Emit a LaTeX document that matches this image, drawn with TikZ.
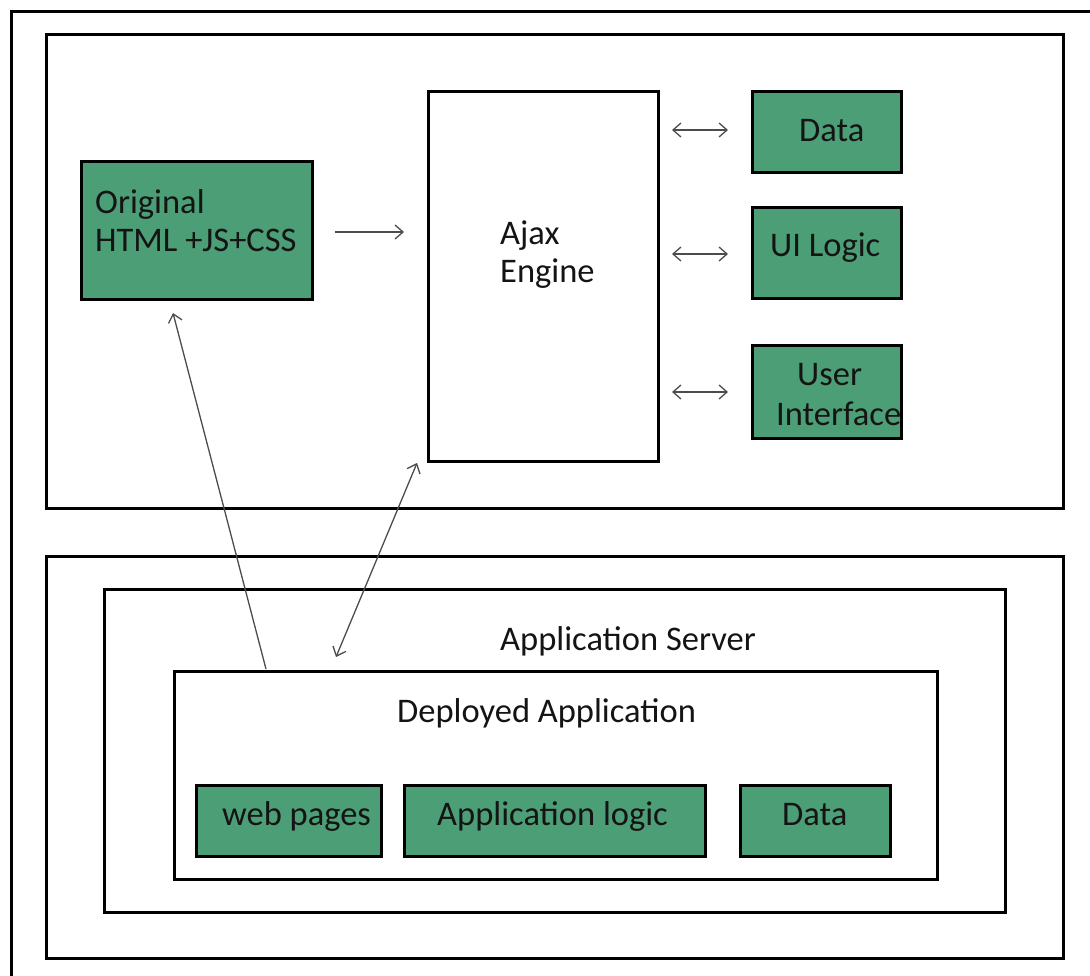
\documentclass[tikz,border=0pt]{standalone}
\usepackage{fontspec}
\setmainfont{Carlito}
\usetikzlibrary{arrows.meta}
\definecolor{boxgreen}{RGB}{76,158,118}
\tikzset{tipa/.tip={Straight Barb[length=8pt,width=14pt,line width=1.3pt]}}
\begin{document}
\begin{tikzpicture}[x=1pt,y=-1pt,
  frame/.style={draw=black,line width=3pt,anchor=north west,inner sep=0pt,outer sep=0pt},
  gbox/.style={frame,fill=boxgreen},
  wbox/.style={frame,fill=white},
  lbl/.style={anchor=base west,inner sep=0pt,font=\fontsize{34.5}{40}\selectfont,text=black!92},
  conn/.style={draw=black!70,line width=1.3pt}
]
\useasboundingbox (0,0) rectangle (1090,976);
% outer frame (only its top and left sides fall inside the picture)
\coordinate (ob) at (11,980);
\coordinate (otl) at (11,12);
\coordinate (or) at (1094,12);
\draw[line width=3pt] (ob) -- (otl) -- (or);
% containers
\node[frame,minimum width=1017,minimum height=473] (client) at (46,35) {};
\node[frame,minimum width=1017,minimum height=402] (server) at (46,556) {};
\node[frame,minimum width=901,minimum height=323] (appserver) at (104,589) {};
\node[frame,minimum width=763,minimum height=208] (deployed) at (174,671) {};
% client boxes
\node[gbox,minimum width=231,minimum height=138] (orig) at (81,162) {};
\node[wbox,minimum width=230,minimum height=369] (ajax) at (428,92) {};
\node[gbox,minimum width=149,minimum height=81] (data1) at (752,92) {};
\node[gbox,minimum width=149,minimum height=91] (uilogic) at (752,208) {};
\node[gbox,minimum width=149,minimum height=92] (ui) at (752,346) {};
% server boxes
\node[gbox,minimum width=185,minimum height=71] (web) at (196,785) {};
\node[gbox,minimum width=301,minimum height=71] (applogic) at (404,785) {};
\node[gbox,minimum width=150,minimum height=71] (data2) at (740,785) {};
% texts
\node[lbl] (t1) at (95,214) {Original};
\node[lbl] (t2) at (95,252) {HTML +JS+CSS};
\node[lbl] (t3) at (500,245) {Ajax};
\node[lbl] (t4) at (500,283) {Engine};
\node[lbl] (t5) at (799,142) {Data};
\node[lbl] (t6) at (770,257) {UI Logic};
\node[lbl] (t7) at (797,385) {User};
\node[lbl] (t8) at (776,425) {Interface};
\node[lbl] (t9) at (500,650) {Application Server};
\node[lbl] (t10) at (397,722) {Deployed Application};
\node[lbl] (t11) at (222,825) {web pages};
\node[lbl] (t12) at (437,825) {Application logic};
\node[lbl] (t13) at (782,825) {Data};
% connector end points
\coordinate (a1) at (335,232);
\coordinate (a2) at (404,232);
\coordinate (b1) at (672,130);
\coordinate (b2) at (728,130);
\coordinate (c1) at (672,254);
\coordinate (c2) at (728,254);
\coordinate (d1) at (672,392);
\coordinate (d2) at (728,392);
\coordinate (e1) at (266,669);
\coordinate (e2) at (173,313);
\coordinate (f1) at (336,657);
\coordinate (f2) at (417,463);
\draw[conn,-{tipa}] (a1) -- (a2);
\draw[conn,{tipa}-{tipa}] (b1) -- (b2);
\draw[conn,{tipa}-{tipa}] (c1) -- (c2);
\draw[conn,{tipa}-{tipa}] (d1) -- (d2);
\draw[conn,-{tipa}] (e1) -- (e2);
\draw[conn,{tipa}-{tipa}] (f1) -- (f2);
\end{tikzpicture}
\end{document}
